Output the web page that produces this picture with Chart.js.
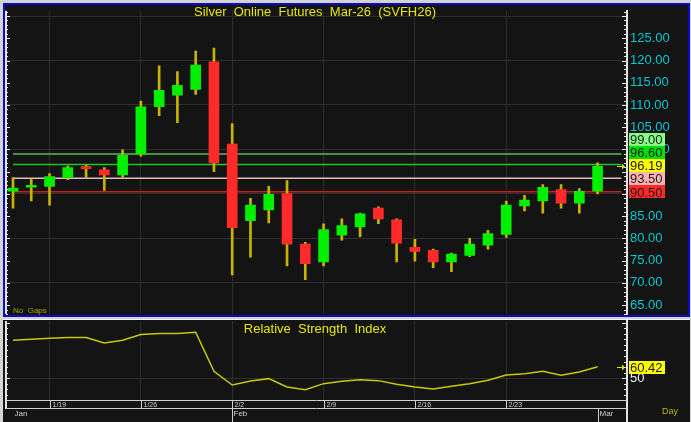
<!DOCTYPE html>
<html>
<head>
<meta charset="utf-8">
<title>Silver Online Futures Mar-26 (SVFH26)</title>
<script src="https://cdn.jsdelivr.net/npm/chart.js@4.4.1/dist/chart.umd.min.js"></script>
<style>
    html, body { margin: 0; padding: 0; background: #d4d4d4; }
    #wrap { position: relative; width: 691px; height: 422px; overflow: hidden; }
    #wrap canvas { position: absolute; left: 0; top: 0; }
</style>
</head>
<body>
<div id="wrap">
    <canvas id="priceChart" width="691" height="422"></canvas>
    <canvas id="rsiChart" width="691" height="422"></canvas>
</div>
<script>
// Daily bars, 1/15 .. 3/2
const dates = ['1/15', '1/16', '1/19', '1/20', '1/21', '1/22', '1/23',
    '1/26', '1/27', '1/28', '1/29', '1/30',
    '2/2', '2/3', '2/4', '2/5', '2/6',
    '2/9', '2/10', '2/11', '2/12', '2/13',
    '2/16', '2/17', '2/18', '2/19', '2/20',
    '2/23', '2/24', '2/25', '2/26', '2/27', '3/2'];
const opens  = [90.6, 91.5, 91.7, 93.7, 96.1, 95.4, 94.3, 99.0, 109.6, 112.2, 113.5, 119.7, 101.2, 84.0, 86.4, 90.1, 78.7,
    74.7, 80.7, 82.6, 86.8, 84.2, 78.0, 77.3, 74.7, 76.2, 78.5, 80.9, 87.3, 88.4, 91.0, 87.9, 90.6];
const highs  = [93.7, 93.4, 94.6, 96.3, 96.5, 95.9, 99.9, 110.9, 118.8, 117.5, 122.1, 122.8, 105.8, 89.0, 91.7, 93.0, 79.1,
    83.3, 84.4, 85.7, 87.1, 84.4, 79.8, 77.6, 76.7, 80.0, 81.8, 88.4, 89.7, 92.1, 92.1, 91.2, 97.0];
const lows   = [86.8, 88.4, 87.5, 93.2, 93.7, 90.8, 93.7, 98.5, 107.6, 106.0, 112.4, 95.0, 71.8, 75.8, 83.5, 73.8, 70.7,
    73.8, 79.6, 80.4, 83.3, 74.7, 74.9, 73.4, 72.5, 75.9, 77.6, 80.2, 86.2, 85.7, 86.8, 85.7, 90.0];
const closes = [91.3, 91.7, 93.9, 95.9, 95.7, 94.3, 98.7, 109.6, 113.3, 114.4, 119.0, 97.0, 82.4, 87.5, 89.9, 78.7, 74.3,
    82.0, 82.9, 85.5, 84.4, 78.9, 77.1, 74.7, 76.5, 78.7, 81.1, 87.5, 88.6, 91.5, 87.9, 90.6, 96.19];
const rsiValues = [84.2, 85.1, 86.0, 86.7, 86.7, 81.8, 84.2, 89.4, 90.3, 90.3, 91.4, 56.3, 44.0, 47.6, 49.7, 42.2, 39.8,
    45.2, 47.3, 48.8, 47.9, 44.6, 42.2, 40.4, 42.8, 45.2, 48.2, 53.0, 54.2, 56.3, 52.7, 55.7, 60.42];

// horizontal price levels drawn across the chart
const priceLevels = [99.00, 96.60, 93.50, 90.50];

// axis labels
const priceTicks = [65, 70, 75, 80, 85, 90, 95, 100, 105, 110, 115, 120, 125];
const priceGrid = [70, 80, 90, 100, 110, 120, 130];
const rsiTicks = [50];
const dateTicks = ['1/19', '1/26', '2/2', '2/9', '2/16', '2/23'];
const monthTicks = ['Jan', 'Feb', 'Mar'];

// styles
const UP = '#00f000';
const DOWN = '#ff2a2a';
const WICK = '#c8b400';
const BG = '#141414';
const GRID = '#2e2e2e';
const AXIS = '#e4e4e4';
const levelLine = ['#5cb85c', '#1ec81e', '#e6bcbc', '#c81e1e'];
const levelBox = ['#86ff86', '#00e000', '#ffb4b4', '#ff2a2a'];
const FONT = '"Liberation Sans", Arial, sans-serif';

const xMin = -0.383, xMax = 33.61;
const lastClose = closes[closes.length - 1];
const lastRsi = rsiValues[rsiValues.length - 1];

function hline(ctx, x1, x2, y) {
    ctx.beginPath(); ctx.moveTo(x1, y); ctx.lineTo(x2, y); ctx.stroke();
}
function vline(ctx, x, y1, y2) {
    ctx.beginPath(); ctx.moveTo(x, y1); ctx.lineTo(x, y2); ctx.stroke();
}

// small tick marks on an axis line, pointing into the plot
function axisMarks(ctx, scale, x, dir, step, major) {
    const start = Math.ceil(scale.min / step) * step;
    for (let v = start; v <= scale.max + 1e-9; v += step) {
        const y = Math.round(scale.getPixelForValue(v)) + 0.5;
        const isMajor = Math.abs(v / major - Math.round(v / major)) < 1e-6;
        hline(ctx, x, x + dir * (isMajor ? 4 : 2), y);
    }
}

function arrow(ctx, x, y) {
    ctx.strokeStyle = '#e0e000';
    ctx.fillStyle = '#e0e000';
    ctx.lineWidth = 1;
    hline(ctx, x - 6, x, y + 0.5);
    ctx.beginPath();
    ctx.moveTo(x + 2, y + 0.5);
    ctx.lineTo(x - 1, y - 2.5);
    ctx.lineTo(x - 1, y + 3.5);
    ctx.closePath();
    ctx.fill();
}

const priceDecor = {
    id: 'priceDecor',
    beforeDraw(chart) {
        const ctx = chart.ctx;
        ctx.save();
        ctx.fillStyle = '#d4d4d4';
        ctx.fillRect(0, 0, 691, 422);
        // main panel with blue frame
        ctx.fillStyle = '#0a0ad0';
        ctx.fillRect(3, 3, 687, 314);
        ctx.fillStyle = BG;
        ctx.fillRect(5, 5, 683, 310);
        // lower panel
        ctx.fillStyle = '#f2f2f2';
        ctx.fillRect(3, 319, 687, 1);
        ctx.fillStyle = BG;
        ctx.fillRect(3, 320, 687, 102);
        ctx.restore();
    },
    beforeDatasetsDraw(chart) {
        const ctx = chart.ctx;
        const xs = chart.scales.x, ys = chart.scales.y;
        ctx.save();
        ctx.lineWidth = 1.5;
        priceLevels.forEach((v, k) => {
            ctx.strokeStyle = levelLine[k];
            hline(ctx, xs.getPixelForValue(0), xs.getPixelForValue(33.3), ys.getPixelForValue(v));
        });
        ctx.restore();
    },
    afterDraw(chart) {
        const ctx = chart.ctx;
        const area = chart.chartArea;
        const xs = chart.scales.x, ys = chart.scales.y;
        ctx.save();
        // left axis line and tick marks on both axes
        ctx.strokeStyle = AXIS;
        ctx.lineWidth = 2;
        vline(ctx, area.left, area.top, area.bottom);
        ctx.lineWidth = 1;
        axisMarks(ctx, ys, area.left, 1, 1, 5);
        axisMarks(ctx, ys, area.right - 1, -1, 1, 5);

        // price boxes, stacked upward so they do not overlap
        const items = priceLevels.map((v, k) => ({ value: v, bg: levelBox[k] }));
        items.push({ value: lastClose, bg: '#ffff00' });
        items.sort((a, b) => a.value - b.value);
        const h = 13;
        let prev = Infinity;
        items.forEach(it => {
            let y = ys.getPixelForValue(it.value);
            if (y > prev - h) y = prev - h;
            prev = y;
            ctx.fillStyle = it.bg;
            ctx.fillRect(area.right + 2, Math.round(y - h / 2), 36, h);
            ctx.fillStyle = '#1a1a1a';
            ctx.font = '13px ' + FONT;
            ctx.textAlign = 'left';
            ctx.textBaseline = 'middle';
            ctx.fillText(it.value.toFixed(2), area.right + 3, Math.round(y) + 1);
        });
        arrow(ctx, area.right - 4, Math.round(ys.getPixelForValue(lastClose)));

        // title and note
        ctx.fillStyle = '#e6e600';
        ctx.font = '13px ' + FONT;
        ctx.textAlign = 'center';
        ctx.textBaseline = 'middle';
        ctx.fillText('Silver  Online  Futures  Mar-26  (SVFH26)', 315, 12);
        ctx.fillStyle = '#a8a800';
        ctx.font = '8px ' + FONT;
        ctx.textAlign = 'left';
        ctx.fillText('No  Gaps', 13, 311);
        ctx.restore();
    }
};

const rsiDecor = {
    id: 'rsiDecor',
    afterDraw(chart) {
        const ctx = chart.ctx;
        const area = chart.chartArea;
        const xs = chart.scales.x, ys = chart.scales.y;
        ctx.save();
        ctx.strokeStyle = AXIS;
        ctx.lineWidth = 2;
        vline(ctx, area.left, area.top, area.bottom + 9);
        vline(ctx, area.right, 320, 422);
        ctx.lineWidth = 1;
        axisMarks(ctx, ys, area.left, 1, 5, 50);
        axisMarks(ctx, ys, area.right - 1, -1, 5, 50);

        // date rows under the plot
        ctx.strokeStyle = '#d0d0d0';
        hline(ctx, area.left, area.right, area.bottom + 0.5);
        hline(ctx, area.left, area.right, area.bottom + 8.5);
        ctx.fillStyle = '#d0d0d0';
        ctx.font = '7px ' + FONT;
        ctx.textAlign = 'left';
        ctx.textBaseline = 'middle';
        dateTicks.forEach(d => {
            const px = Math.round(xs.getPixelForValue(dates.indexOf(d))) + 0.5;
            vline(ctx, px, area.bottom, area.bottom + 9);
            ctx.fillText(d, px + 2, area.bottom + 5);
        });
        ctx.font = '8px ' + FONT;
        monthTicks.forEach((m, k) => {
            const idx = dates.findIndex(d => Number(d.split('/')[0]) === k + 1);
            const px = Math.round(xs.getPixelForValue(idx)) + 0.5;
            if (idx > 0) vline(ctx, px, area.bottom + 9, 422);
            ctx.fillText(m, px + 1, area.bottom + 14);
        });

        // last value box and marker
        const y = Math.round(ys.getPixelForValue(lastRsi));
        ctx.fillStyle = '#ffff00';
        ctx.fillRect(area.right + 2, y - 6, 36, 13);
        ctx.fillStyle = '#1a1a1a';
        ctx.font = '13px ' + FONT;
        ctx.fillText(lastRsi.toFixed(2), area.right + 3, y + 1);
        arrow(ctx, area.right - 4, y);

        ctx.fillStyle = '#e6e600';
        ctx.textAlign = 'center';
        ctx.fillText('Relative  Strength  Index', 315, 329);
        ctx.fillStyle = '#b8b800';
        ctx.font = '9px ' + FONT;
        ctx.textAlign = 'left';
        ctx.fillText('Day', 662, 412);
        ctx.restore();
    }
};

const xScale = {
    type: 'linear',
    min: xMin,
    max: xMax,
    offset: false,
    afterBuildTicks: scale => { scale.ticks = dateTicks.map(d => ({ value: dates.indexOf(d) })); },
    ticks: { display: false },
    grid: { color: GRID, lineWidth: 1, drawTicks: false, offset: false },
    border: { display: false }
};

new Chart(document.getElementById('priceChart'), {
    type: 'bar',
    data: {
        datasets: [{
            label: 'Body',
            data: opens.map((o, i) => ({ x: i, y: [o, closes[i]] })),
            backgroundColor: opens.map((o, i) => closes[i] >= o ? UP : DOWN),
            grouped: false,
            barPercentage: 1,
            categoryPercentage: 1,
            maxBarThickness: 10,
            minBarLength: 2,
            borderWidth: 0
        }, {
            label: 'Wick',
            data: lows.map((l, i) => ({ x: i, y: [l, highs[i]] })),
            backgroundColor: WICK,
            grouped: false,
            barPercentage: 1,
            categoryPercentage: 1,
            maxBarThickness: 2,
            borderWidth: 0
        }]
    },
    options: {
        responsive: false,
        animation: false,
        events: [],
        layout: { padding: { left: 6, top: 5, right: 3, bottom: 108 } },
        plugins: { legend: { display: false }, tooltip: { enabled: false } },
        scales: {
            x: xScale,
            y: {
                position: 'right',
                min: 63.0,
                max: 131.18,
                beginAtZero: false,
                afterBuildTicks: scale => {
                    const vals = [...new Set(priceTicks.concat(priceGrid))].sort((a, b) => a - b);
                    scale.ticks = vals.map(v => ({ value: v }));
                },
                afterFit: scale => { scale.width = 61; },
                ticks: {
                    padding: 3,
                    color: '#00c8d2',
                    font: { family: FONT, size: 13 },
                    callback: v => priceTicks.includes(v) ? v.toFixed(2) : ''
                },
                grid: {
                    color: c => priceGrid.includes(c.tick && c.tick.value) ? GRID : 'rgba(0,0,0,0)',
                    drawTicks: false
                },
                border: { display: true, color: AXIS, width: 2 }
            }
        }
    },
    plugins: [priceDecor]
});

new Chart(document.getElementById('rsiChart'), {
    type: 'line',
    data: {
        datasets: [{
            label: 'RSI',
            data: rsiValues.map((v, i) => ({ x: i, y: v })),
            borderColor: '#c8c800',
            borderWidth: 1.5,
            pointRadius: 0,
            tension: 0,
            fill: false
        }]
    },
    options: {
        responsive: false,
        animation: false,
        events: [],
        layout: { padding: { left: 6, top: 321, right: 3, bottom: 22 } },
        plugins: { legend: { display: false }, tooltip: { enabled: false } },
        scales: {
            x: xScale,
            y: {
                position: 'right',
                min: 30.5,
                max: 101.5,
                afterBuildTicks: scale => { scale.ticks = rsiTicks.map(v => ({ value: v })); },
                afterFit: scale => { scale.width = 61; },
                ticks: {
                    padding: 3,
                    color: '#f0f0f0',
                    font: { family: FONT, size: 13 },
                    callback: v => String(v)
                },
                grid: { color: GRID, drawTicks: false },
                border: { display: true, color: AXIS, width: 2 }
            }
        }
    },
    plugins: [rsiDecor]
});
</script>
</body>
</html>
